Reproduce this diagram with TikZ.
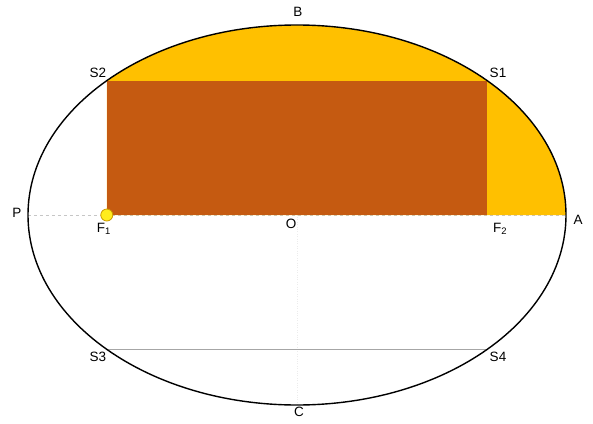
\documentclass[tikz,border=0pt]{standalone}
\usepackage{fontspec}
\setmainfont{Liberation Sans}
\usepackage{xcolor}
\usepackage{tikz}
\usetikzlibrary{positioning}

\definecolor{amber}{RGB}{255,192,0}
\definecolor{rust}{RGB}{197,90,17}
\definecolor{focus}{RGB}{255,236,30}

\begin{document}
\begin{tikzpicture}[
  x=1pt, y=1pt,
  font=\fontsize{13.5}{15}\selectfont,
  lbl/.style={inner sep=1pt},
  axisline/.style={gray!45, dashed, line width=0.5pt},
  chord/.style={gray!70, line width=0.6pt},
  orbit/.style={black, line width=1.4pt},
]
\useasboundingbox (-297,-208) rectangle (296,215);

%% --- Puntos ---
\coordinate (O)  at (0,0);
\coordinate (P)  at (-269,0);
\coordinate (A)  at (269,0);
\coordinate (B)  at (0,190);
\coordinate (C)  at (0,-190);
\coordinate (F1) at ({269*cos(135)},0);
\coordinate (F2) at ({-269*cos(135)},0);
\coordinate (S2) at ({269*cos(135)},{190*sin(135)});
\coordinate (S1) at ({-269*cos(135)},{190*sin(135)});
\coordinate (S3) at ({269*cos(135)},{-190*sin(135)});
\coordinate (S4) at ({-269*cos(135)},{-190*sin(135)});

%% --- Ejes ---
\draw[axisline] (P) -- (A);
\draw[gray!15, dotted] (B) -- (C);

%% --- Areas ---
\fill[amber] (F1) -- (S2) arc[start angle=135, end angle=0,
      x radius=269, y radius=190] -- cycle;
\fill[rust] (F1) rectangle (S1);

%% --- Cuerda y orbita ---
\draw[chord] (S3) -- (S4);
\draw[orbit] (O) ellipse[x radius=269, y radius=190];
\filldraw[fill=focus, draw=amber!80!black, line width=0.8pt] (F1) circle[radius=6];

%% --- Etiquetas ---
\node[lbl] (lP)  at (-280,2)   {P};
\node[lbl] (lA)  at (281,-5)   {A};
\node[lbl] (lB)  at (1,203)    {B};
\node[lbl] (lC)  at (2,-197)   {C};
\node[lbl] (lO)  at (-6,-9)    {O};
\node[lbl] (lF1) at (-193,-14) {F\textsubscript{1}};
\node[lbl] (lF2) at (203,-14)  {F\textsubscript{2}};
\node[lbl] (lS2) at (-199,142) {S2};
\node[lbl] (lS1) at (201,142)  {S1};
\node[lbl] (lS3) at (-199,-142) {S3};
\node[lbl] (lS4) at (201,-142)  {S4};

\end{tikzpicture}
\end{document}
